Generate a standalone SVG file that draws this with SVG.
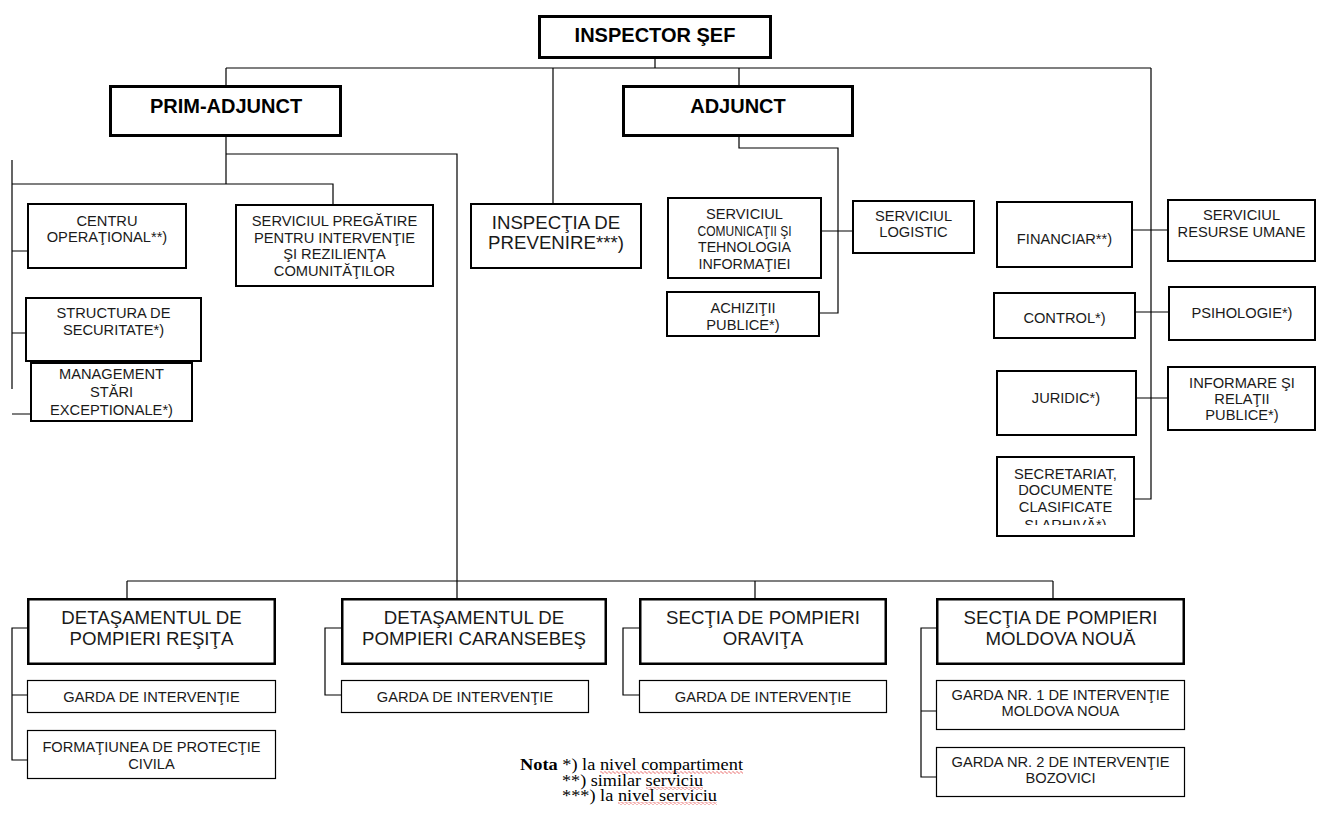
<svg xmlns="http://www.w3.org/2000/svg" width="1317" height="814" viewBox="0 0 1317 814">
<style>
.b3{fill:#fff;stroke:#000;stroke-width:3}
.b2{fill:#fff;stroke:#000;stroke-width:2}
.b25{fill:#fff;stroke:#000;stroke-width:2.5}
.b1{fill:#fff;stroke:#000;stroke-width:1.2}
.c{fill:none;stroke:#000;stroke-width:1.2}
.t{font-family:"Liberation Sans",Arial,sans-serif;font-size:14.67px;text-anchor:middle;fill:#1a1a1a}
.tb{font-weight:bold;font-size:20px;fill:#000}
.tl{font-size:18.67px}
.n{font-family:"Liberation Serif","Times New Roman",serif;font-size:16px;fill:#000}
.w{fill:url(#wave)}
</style>
<defs>
<clipPath id="clipSec"><rect x="997" y="457" width="137" height="68"/></clipPath>
<pattern id="wave" x="0" y="0" width="4" height="3" patternUnits="userSpaceOnUse"><path d="M0,1.5L1,0.5L3,2.5L4,1.5" fill="none" stroke="#e02020" stroke-width="0.7"/></pattern>
</defs>
<g id="connectors">
<path class="c" d="M655,59V68M226,68H1151M226,68V86M739,68V86M553,68V204M1151,68V499H1135"/>
<path class="c" d="M226,137V184M226,154H457V599M12,160V389M12,184H333V205M12,251H28M12,333H27M12,414H31"/>
<path class="c" d="M739,137V148H838V313H820M822,231H853"/>
<path class="c" d="M1133,230H1168M1136,312H1169M1137,398H1168"/>
<path class="c" d="M127,581H1053M127,581V599M755,581V599M1053,581V599"/>
<path class="c" d="M27,628H12V760H27M12,695H27M341,628H325V695H341M639,628H623V695H639M936,628H921V777H936M921,711H936"/>
</g>
<g id="inspector-sef"><rect class="b3" x="539.5" y="16.5" width="231" height="41"/><text class="t tb" x="655" y="42">INSPECTOR ŞEF</text></g>
<g id="prim-adjunct"><rect class="b3" x="110.5" y="86.5" width="230" height="49"/><text class="t tb" x="226" y="113">PRIM-ADJUNCT</text></g>
<g id="adjunct"><rect class="b3" x="623.5" y="86.5" width="229" height="49"/><text class="t tb" x="738" y="113">ADJUNCT</text></g>
<g id="centru"><rect class="b2" x="28" y="204" width="158" height="64"/><text class="t" x="107" y="226">CENTRU</text><text class="t" x="107" y="242">OPERAŢIONAL**)</text></g>
<g id="pregatire"><rect class="b2" x="236" y="205" width="197" height="81"/><text class="t" x="334.5" y="226">SERVICIUL PREGĂTIRE</text><text class="t" x="334.5" y="242.5">PENTRU INTERVENŢIE</text><text class="t" x="334.5" y="259">ŞI REZILIENŢA</text><text class="t" x="334.5" y="275.5">COMUNITĂŢILOR</text></g>
<g id="management"><rect class="b2" x="31" y="363" width="161" height="58"/><text class="t" x="111.5" y="379">MANAGEMENT</text><text class="t" x="111.5" y="397">STĂRI</text><text class="t" x="111.5" y="415">EXCEPTIONALE*)</text></g>
<g id="structura"><rect class="b2" x="26" y="298" width="175" height="63"/><text class="t" x="113.5" y="318">STRUCTURA DE</text><text class="t" x="113.5" y="335">SECURITATE*)</text></g>
<g id="inspectia"><rect class="b2" x="471" y="204" width="170" height="64"/><text class="t tl" x="556" y="228.5">INSPECŢIA DE</text><text class="t tl" x="556" y="248.5">PREVENIRE***)</text></g>
<g id="comunicatii"><rect class="b2" x="668" y="198" width="153" height="80"/><text class="t" x="744.5" y="219" textLength="77" lengthAdjust="spacingAndGlyphs">SERVICIUL</text><text class="t" x="744.5" y="235.5" textLength="94" lengthAdjust="spacingAndGlyphs">COMUNICAŢII ŞI</text><text class="t" x="744.5" y="252" textLength="93" lengthAdjust="spacingAndGlyphs">TEHNOLOGIA</text><text class="t" x="744.5" y="269" textLength="92" lengthAdjust="spacingAndGlyphs">INFORMAŢIEI</text></g>
<g id="achizitii"><rect class="b2" x="667" y="292" width="152" height="44"/><text class="t" x="743" y="313">ACHIZIŢII</text><text class="t" x="743" y="330">PUBLICE*)</text></g>
<g id="logistic"><rect class="b2" x="853" y="201" width="121" height="52"/><text class="t" x="913.5" y="220.5">SERVICIUL</text><text class="t" x="913.5" y="237">LOGISTIC</text></g>
<g id="financiar"><rect class="b2" x="997" y="202" width="135" height="65"/><text class="t" x="1064.5" y="244">FINANCIAR**)</text></g>
<g id="resurse"><rect class="b2" x="1168" y="200" width="147" height="61"/><text class="t" x="1241.5" y="220">SERVICIUL</text><text class="t" x="1241.5" y="236.5">RESURSE UMANE</text></g>
<g id="control"><rect class="b2" x="994" y="293" width="141" height="45"/><text class="t" x="1064.5" y="323">CONTROL*)</text></g>
<g id="psihologie"><rect class="b2" x="1169" y="287" width="146" height="53"/><text class="t" x="1242" y="318">PSIHOLOGIE*)</text></g>
<g id="juridic"><rect class="b2" x="997" y="371" width="139" height="64"/><text class="t" x="1066" y="403">JURIDIC*)</text></g>
<g id="informare"><rect class="b2" x="1168" y="367" width="147" height="63"/><text class="t" x="1242" y="388">INFORMARE ŞI</text><text class="t" x="1242" y="404">RELAŢII</text><text class="t" x="1242" y="420">PUBLICE*)</text></g>
<g id="secretariat"><rect class="b2" x="997" y="457" width="137" height="79"/><g clip-path="url(#clipSec)"><text class="t" x="1065.5" y="478.5">SECRETARIAT,</text><text class="t" x="1065.5" y="495">DOCUMENTE</text><text class="t" x="1065.5" y="512">CLASIFICATE</text><text class="t" x="1065.5" y="529.5">ŞI ARHIVĂ*)</text></g></g>
<g id="det-resita"><rect class="b25" x="28.25" y="599.25" width="246.5" height="64.5"/><text class="t tl" x="151.5" y="624">DETAŞAMENTUL DE</text><text class="t tl" x="151.5" y="645">POMPIERI REŞIŢA</text></g>
<g id="garda-resita"><rect class="b1" x="27.5" y="680.5" width="248" height="32"/><text class="t" x="151.5" y="701.5">GARDA DE INTERVENŢIE</text></g>
<g id="formatiunea"><rect class="b1" x="27.5" y="730.5" width="248" height="48"/><text class="t" x="151.5" y="752">FORMAŢIUNEA DE PROTECŢIE</text><text class="t" x="151.5" y="768.5">CIVILA</text></g>
<g id="det-caransebes"><rect class="b25" x="342.25" y="599.25" width="263.5" height="64.5"/><text class="t tl" x="474" y="624">DETAŞAMENTUL DE</text><text class="t tl" x="474" y="645">POMPIERI CARANSEBEŞ</text></g>
<g id="garda-caransebes"><rect class="b1" x="341.5" y="680.5" width="247" height="32"/><text class="t" x="465" y="701.5">GARDA DE INTERVENŢIE</text></g>
<g id="sectia-oravita"><rect class="b25" x="640.25" y="599.25" width="245.5" height="64.5"/><text class="t tl" x="763" y="624">SECŢIA DE POMPIERI</text><text class="t tl" x="763" y="645">ORAVIŢA</text></g>
<g id="garda-oravita"><rect class="b1" x="639.5" y="680.5" width="247" height="32"/><text class="t" x="763" y="701.5">GARDA DE INTERVENŢIE</text></g>
<g id="sectia-moldova"><rect class="b25" x="937.25" y="599.25" width="246.5" height="64.5"/><text class="t tl" x="1060.5" y="624">SECŢIA DE POMPIERI</text><text class="t tl" x="1060.5" y="645">MOLDOVA NOUĂ</text></g>
<g id="garda-nr1"><rect class="b1" x="936.5" y="680.5" width="248" height="49"/><text class="t" x="1060.5" y="700">GARDA NR. 1 DE INTERVENŢIE</text><text class="t" x="1060.5" y="716">MOLDOVA NOUA</text></g>
<g id="garda-nr2"><rect class="b1" x="936.5" y="747.5" width="248" height="49"/><text class="t" x="1060.5" y="767">GARDA NR. 2 DE INTERVENŢIE</text><text class="t" x="1060.5" y="783">BOZOVICI</text></g>
<g id="nota">
<rect class="w" x="600" y="771" width="143" height="3"/>
<rect class="w" x="646" y="787" width="57" height="3"/>
<rect class="w" x="618" y="802" width="99" height="3"/>
<text class="n" x="520" y="770" textLength="223" lengthAdjust="spacingAndGlyphs"><tspan font-weight="bold">Nota</tspan> *) la nivel compartiment</text>
<text class="n" x="562" y="786" textLength="141" lengthAdjust="spacingAndGlyphs">**) similar serviciu</text>
<text class="n" x="562" y="801" textLength="155" lengthAdjust="spacingAndGlyphs">***) la nivel serviciu</text>
</g>
</svg>
